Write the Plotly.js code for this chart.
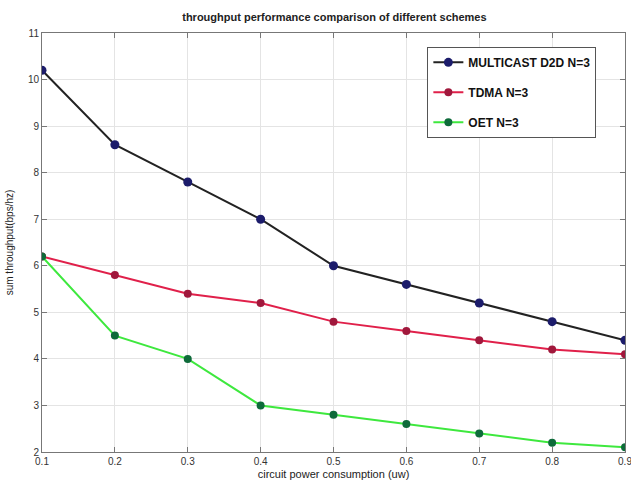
<!DOCTYPE html>
<html><head><meta charset="utf-8">
<script src="https://cdn.plot.ly/plotly-3.0.1.min.js"></script>
<style>body{margin:0;padding:0;background:#fff}#chart{width:631px;height:490px}</style>
</head><body><div id="chart"></div>
<script>
const power = [0.1, 0.2, 0.3, 0.4, 0.5, 0.6, 0.7, 0.8, 0.9];
const powerLabels = ['0.1', '0.2', '0.3', '0.4', '0.5', '0.6', '0.7', '0.8', '0.9'];
const multicast = [10.2, 8.6, 7.8, 7.0, 6.0, 5.6, 5.2, 4.8, 4.4];
const tdma = [6.2, 5.8, 5.4, 5.2, 4.8, 4.6, 4.4, 4.2, 4.1];
const oet = [6.2, 4.5, 4.0, 3.0, 2.8, 2.6, 2.4, 2.2, 2.1];
const names = ['MULTICAST D2D N=3', 'TDMA N=3', 'OET N=3'];

const traces = [
  {x: power, y: multicast, name: names[0], legendgroup: 'a', mode: 'lines+markers',
   line: {color: '#222222', width: 2}, marker: {color: '#1c1c6b', size: 9}},
  {x: power, y: tdma, name: names[1], legendgroup: 'b', mode: 'lines+markers',
   line: {color: '#e0204a', width: 2}, marker: {color: '#a0183c', size: 8}},
  {x: power, y: oet, name: names[2], legendgroup: 'c', mode: 'lines+markers',
   line: {color: '#3ee83e', width: 2}, marker: {color: '#0e6b3a', size: 8}}
];

const axisCommon = {
  showline: true, linecolor: '#777', linewidth: 1, mirror: 'ticks',
  ticks: 'inside', ticklen: 5, tickcolor: '#777',
  showgrid: true, gridcolor: '#e4e4e4', gridwidth: 1, zeroline: false,
  tickfont: {family: 'Liberation Sans, Arial, sans-serif', size: 10, color: '#333'}
};

const layout = {
  width: 631, height: 490,
  margin: {l: 42, r: 6, t: 33, b: 38},
  paper_bgcolor: '#fff', plot_bgcolor: '#fff',
  title: {text: '<b>throughput performance comparison of different schemes</b>',
    font: {family: 'Liberation Sans, Arial, sans-serif', size: 11, color: '#222'},
    x: 0.53, xanchor: 'center', y: 0.965, yanchor: 'middle'},
  xaxis: Object.assign({}, axisCommon, {range: [0.1, 0.9], tickmode: 'array',
    tickvals: power, ticktext: powerLabels, automargin: false, ticklabeloverflow: 'allow',
    title: {text: 'circuit power consumption (uw)', standoff: 4,
      font: {family: 'Liberation Sans, Arial, sans-serif', size: 11, color: '#222'}}}),
  yaxis: Object.assign({}, axisCommon, {range: [2, 11], dtick: 1,
    title: {text: 'sum throughput(bps/hz)', standoff: 12,
      font: {family: 'Liberation Sans, Arial, sans-serif', size: 10, color: '#222'}}}),
  showlegend: true,
  legend: {x: 0.661, y: 0.967, xanchor: 'left', yanchor: 'top',
    bgcolor: '#fff', bordercolor: '#555', borderwidth: 1,
    traceorder: 'grouped', tracegroupgap: 11,
    font: {family: 'Liberation Sans, Arial, sans-serif', size: 12, color: '#111', weight: 'bold'}}
};

Plotly.newPlot('chart', traces, layout, {displayModeBar: false, staticPlot: true});
</script></body></html>
